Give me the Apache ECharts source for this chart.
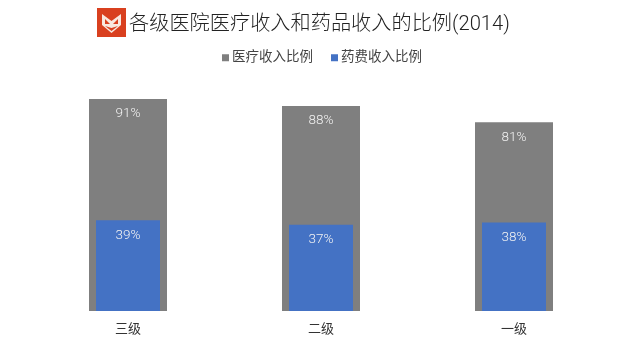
<!DOCTYPE html>
<html>
<head>
<meta charset="utf-8">
<style>
  html, body { margin: 0; padding: 0; background: #fff; }
  #chart { width: 640px; height: 356px; }
</style>
<script src="https://cdn.jsdelivr.net/npm/echarts@6/dist/echarts.min.js"></script>
</head>
<body>
<div id="chart"></div>
<script>
const categories = ['三级', '二级', '一级'];
const medicalRatio = [91, 88, 81];
const drugRatio = [39, 37, 38];
const seriesNames = ['医疗收入比例', '药费收入比例'];

const fontFamily = 'Roboto, "Noto Sans CJK SC", sans-serif';
const chart = echarts.init(document.getElementById('chart'));

const barLabel = {
  show: true,
  position: 'insideTop',
  distance: 8,
  color: '#f2f2f2',
  fontSize: 13.5,
  fontWeight: 300,
  fontFamily: 'Roboto, sans-serif',
  formatter: p => p.value + '%'
};

chart.setOption({
  animation: false,
  backgroundColor: '#fff',
  title: {
    text: '各级医院医疗收入和药品收入的比例(2014)',
    left: 124,
    top: 9.5,
    textStyle: { color: '#222', fontSize: 20.2, fontWeight: 300, fontFamily: fontFamily }
  },
  legend: {
    data: seriesNames,
    top: 46,
    left: 217,
    itemWidth: 7,
    itemHeight: 7,
    itemGap: 18,
    icon: 'rect',
    textStyle: { color: '#444', fontSize: 13.5, fontFamily: fontFamily, padding: [0, 0, 0, -2] }
  },
  grid: { left: 31.5, right: 29.5, top: 78, bottom: 45 },
  xAxis: [
    {
      type: 'category',
      data: categories,
      axisLine: { show: false },
      axisTick: { show: false },
      axisLabel: { color: '#333', fontSize: 13, margin: 12, fontFamily: fontFamily }
    },
    { type: 'category', data: categories, show: false }
  ],
  yAxis: { type: 'value', min: 0, max: 100, show: false },
  series: [
    {
      name: seriesNames[0],
      type: 'bar',
      xAxisIndex: 0,
      data: medicalRatio,
      barWidth: 78,
      itemStyle: { color: '#7f7f7f' },
      label: barLabel,
      z: 2
    },
    {
      name: seriesNames[1],
      type: 'bar',
      xAxisIndex: 1,
      data: drugRatio,
      barWidth: 64,
      itemStyle: { color: '#4472c4' },
      label: barLabel,
      z: 3
    }
  ],
  graphic: [
    { type: 'rect', shape: { x: 97, y: 8, width: 29, height: 29 }, style: { fill: '#d9401f' } },
    // rough fox head logo, white outline then red cut-outs
    { type: 'polygon', shape: { points: [[102, 14], [111.5, 21], [121, 14], [121, 25], [111.5, 33], [102, 25]] }, style: { fill: '#f8e8df' } },
    { type: 'polygon', shape: { points: [[105, 19], [110, 24], [105, 24]] }, style: { fill: '#d9401f' } },
    { type: 'polygon', shape: { points: [[118, 19], [113, 24], [118, 24]] }, style: { fill: '#d9401f' } },
    { type: 'polygon', shape: { points: [[105, 26], [111.5, 28], [118, 26], [111.5, 31]] }, style: { fill: '#d9401f' } }
  ]
});
</script>
</body>
</html>
